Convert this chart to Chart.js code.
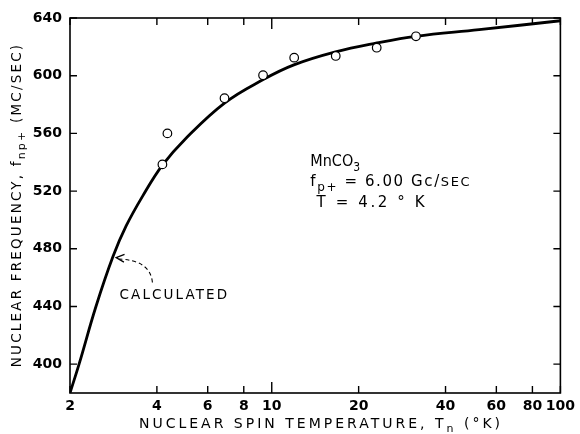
<!DOCTYPE html>
<html><head><meta charset="utf-8">
<script src="https://cdn.jsdelivr.net/npm/chart.js@4/dist/chart.umd.min.js"></script>
<style>html,body{margin:0;padding:0;background:#fff}#wrap{width:580px;height:434px;position:relative}</style>
</head><body><div id="wrap"><canvas id="c" width="580" height="434"></canvas></div>
<script>
// ---- data ----
const xTickValues = [2, 4, 6, 8, 10, 20, 40, 60, 80, 100];
const yTickValues = [400, 440, 480, 520, 560, 600, 640];
const calcT = [2, 2.15, 2.46, 2.82, 3.13, 3.57, 4.18, 5.0, 6.86, 9.34, 11.93, 16.63, 23.16, 31.54, 52.3, 100];
const calcF = [380, 400, 440, 474.8, 495.8, 516.5, 538, 555.8, 581, 597.3, 607.5, 616.5, 622.7, 627.3, 631.9, 638.1];
const measT = [4.18, 4.35, 6.86, 9.33, 11.96, 16.66, 23.1, 31.6];
const measF = [538.5, 560, 584.4, 600.3, 612.5, 613.7, 619.4, 627.3];

const FAM = '"DejaVu Sans", sans-serif';
const FAMC = '"DejaVu Sans Condensed", "DejaVu Sans", sans-serif';

function drawRich(ctx, segs, x, y, align, size, spacing, fam) {
  fam = fam || FAM;
  const subSize = Math.round(size * 0.78);
  const fontFor = m => (m === 1 ? subSize : (m === 2 ? Math.round(size * 0.85) : size)) + 'px ' + fam;
  ctx.letterSpacing = spacing + 'px';
  const widths = segs.map(([t, m]) => { ctx.font = fontFor(m); return ctx.measureText(t).width; });
  const total = widths.reduce((a, b) => a + b, 0);
  let cx = align === 'center' ? x - total / 2 : x;
  ctx.textBaseline = 'alphabetic';
  ctx.textAlign = 'left';
  segs.forEach(([t, m], i) => {
    ctx.font = fontFor(m);
    ctx.fillText(t, cx, y + (m === 1 ? size * 0.3 : 0));
    cx += widths[i];
  });
  ctx.letterSpacing = '0px';
}

const framePlugin = {
  id: 'frame',
  afterDraw(chart, args, opts) {
    const { ctx, chartArea: a, scales } = chart;
    const xs = scales.x, ys = scales.y;
    ctx.save();
    ctx.strokeStyle = '#000';
    ctx.fillStyle = '#000';
    ctx.lineWidth = 1.6;
    ctx.strokeRect(a.left, a.top, a.right - a.left, a.bottom - a.top);
    ctx.lineWidth = 1.4;
    ctx.beginPath();
    xTickValues.forEach(v => {
      const px = xs.getPixelForValue(v);
      const len = v === 10 ? 11 : 7;
      ctx.moveTo(px, a.bottom); ctx.lineTo(px, a.bottom - len);
      ctx.moveTo(px, a.top); ctx.lineTo(px, a.top + len);
    });
    yTickValues.forEach(v => {
      const py = ys.getPixelForValue(v);
      ctx.moveTo(a.left, py); ctx.lineTo(a.left + 7, py);
      ctx.moveTo(a.right, py); ctx.lineTo(a.right - 7, py);
    });
    ctx.stroke();

    // axis titles
    drawRich(ctx, [['NUCLEAR SPIN TEMPERATURE, T', 0], ['n', 1], [' (°K)', 0]],
      321, 428, 'center', 14, 3.0);
    ctx.save();
    ctx.translate(21, 205);
    ctx.rotate(-Math.PI / 2);
    drawRich(ctx, [['NUCLEAR FREQUENCY, f', 0], ['np+', 1], [' (MC/SEC)', 0]],
      0, 0, 'center', 13.5, 2.2);
    ctx.restore();

    // annotations (anchored in data coordinates)
    const P = (t, f) => [xs.getPixelForValue(t), ys.getPixelForValue(f)];
    const ann = opts.annotations;
    let p = P(...ann.label1);
    drawRich(ctx, [['MnCO', 0], ['3', 1]], p[0], p[1], 'left', 16, 0, FAMC);
    p = P(...ann.label2);
    drawRich(ctx, [['f', 0], ['p+', 1], [' = 6.00 Gc/', 0], ['SEC', 2]], p[0], p[1], 'left', 15, 1.6);
    p = P(...ann.label3);
    drawRich(ctx, [['T = 4.2 ° K', 0]], p[0], p[1], 'left', 15, 2.6);
    p = P(...ann.calcLabel);
    drawRich(ctx, [['CALCULATED', 0]], p[0], p[1], 'left', 13.5, 2.1);

    // dashed curved arrow
    const tail = P(...ann.arrowTail), ctrl = P(...ann.arrowCtrl), tip = P(...ann.arrowTip);
    ctx.lineWidth = 1.1;
    ctx.setLineDash([4, 3]);
    ctx.beginPath();
    ctx.moveTo(tail[0], tail[1]);
    ctx.quadraticCurveTo(ctrl[0], ctrl[1], tip[0] + 3, tip[1] + 1.5);
    ctx.stroke();
    ctx.setLineDash([]);
    const ang = Math.atan2(tip[1] - ctrl[1], tip[0] - ctrl[0]);
    ctx.lineWidth = 1.3;
    ctx.beginPath();
    ctx.moveTo(tip[0] - 9 * Math.cos(ang - 0.45), tip[1] - 9 * Math.sin(ang - 0.45));
    ctx.lineTo(tip[0], tip[1]);
    ctx.lineTo(tip[0] - 9 * Math.cos(ang + 0.45), tip[1] - 9 * Math.sin(ang + 0.45));
    ctx.stroke();
    ctx.restore();
  }
};

const tickFont = { family: FAM, size: 14, weight: 'bold' };

new Chart(document.getElementById('c'), {
  type: 'line',
  data: {
    datasets: [
      {
        label: 'Calculated',
        data: calcT.map((t, i) => ({ x: t, y: calcF[i] })),
        borderColor: '#000', borderWidth: 2.8, pointRadius: 0,
        tension: 0.4, fill: false, order: 2
      },
      {
        label: 'Measured',
        data: measT.map((t, i) => ({ x: t, y: measF[i] })),
        showLine: false, pointRadius: 4.3, pointBorderWidth: 1.2,
        pointBackgroundColor: '#fff', pointBorderColor: '#000', order: 1
      }
    ]
  },
  options: {
    responsive: false, animation: false, devicePixelRatio: 1,
    layout: { padding: { top: 18, right: 15, left: 0, bottom: 0 } },
    plugins: {
      legend: { display: false }, tooltip: { enabled: false },
      frame: {
        annotations: {
          label1: [13.6, 537.1],
          label2: [13.6, 523.3],
          label3: [14.3, 509.2],
          calcLabel: [2.97, 445],
          arrowTail: [3.86, 456.6],
          arrowCtrl: [3.8, 472],
          arrowTip: [2.89, 473.9]
        }
      }
    },
    scales: {
      x: {
        type: 'logarithmic', min: 2, max: 100,
        afterBuildTicks: s => { s.ticks = xTickValues.map(v => ({ value: v })); },
        afterFit: s => { s.height = 41; },
        ticks: { callback: v => String(v), autoSkip: false, maxRotation: 0, padding: 5, color: '#000', font: tickFont },
        grid: { display: false, drawTicks: false }, border: { display: false }
      },
      y: {
        type: 'linear', min: 380, max: 640,
        afterBuildTicks: s => { s.ticks = yTickValues.map(v => ({ value: v })); },
        afterFit: s => { s.width = 70; },
        ticks: { autoSkip: false, padding: 8, color: '#000', font: tickFont },
        grid: { display: false, drawTicks: false }, border: { display: false }
      }
    }
  },
  plugins: [framePlugin]
});
</script>
</body></html>
